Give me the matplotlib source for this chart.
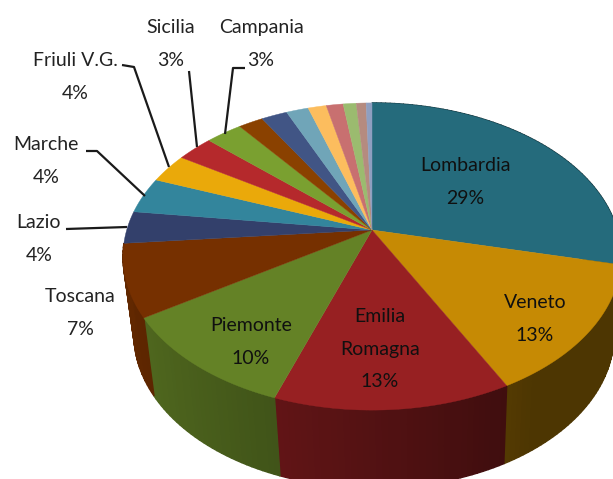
import numpy as np
import matplotlib
matplotlib.use('Agg')
import matplotlib.pyplot as plt
from matplotlib.patches import Polygon

plt.rcParams['font.family'] = ['Lato', 'Open Sans', 'DejaVu Sans']

# share of each slice, clockwise from 12 o'clock
regions = ['Lombardia', 'Veneto', 'Emilia Romagna', 'Piemonte', 'Toscana', 'Lazio', 'Marche',
           'Friuli V.G.', 'Sicilia', 'Campania', 'r11', 'r12', 'r13', 'r14', 'r15', 'r16', 'r17', 'r18']
values = [28.6, 13.7, 13.1, 10.6, 7.6, 3.4, 3.8, 3.1, 2.8, 2.8, 1.9, 2.0, 1.7, 1.4, 1.3, 1.0, 0.75, 0.45]
colors = ['#256b7c', '#c68a04', '#972022', '#648226', '#763000', '#33406b', '#33859c', '#eaa90a', '#b5292c',
          '#7aa030', '#8a4100', '#415585', '#70a5b8', '#fcbd5e', '#c87070', '#9bbb6f', '#b58b7f', '#8f9fc0']

inner_labels = ['Lombardia\n29%', 'Veneto\n13%', 'Emilia\nRomagna\n13%', 'Piemonte\n10%']
inner_x = [465, 535, 380, 251]
inner_y = [182, 319, 349, 342]
outer_labels = ['Toscana\n7%', 'Lazio\n4%', 'Marche\n4%', 'Friuli V.G.\n4%', 'Sicilia\n3%', 'Campania\n3%']
outer_x = [80, 39, 46, 75, 171, 261]
outer_y = [313, 239, 161, 77, 44, 44]

leaders = [[(66, 229), (127, 227)],
           [(86, 151), (97, 151), (145, 196)],
           [(122, 65), (134, 67), (169, 167)],
           [(189, 71), (197, 147)],
           [(245, 68), (233, 68), (225, 134)]]

# perspective of the top disc
cx, cy = 372, 230
a, b, k = 245.3, 149.0, 0.1726


def top(theta):
    u, v = np.sin(theta), np.cos(theta)
    d = 1 + k * v
    return cx + a * u / d, cy - b * v / d


def bottom(x, y):
    # lower rim is the top rim moved down and a bit smaller
    return 374 + (x - 372) * 240 / 249, 334 + (y - 256)


def shade(col, theta):
    c = np.array(matplotlib.colors.to_rgb(col))
    # darker to the right, lighter to the left
    f = max(0.39, 0.55 - 0.28 * np.sin(theta))
    return c * f


fig = plt.figure(figsize=(6.13, 4.79), dpi=100)
ax = fig.add_axes([0, 0, 1, 1])
ax.set_xlim(0, 613)
ax.set_ylim(479, 0)
ax.axis('off')

edges = np.cumsum([0] + values) / sum(values) * 2 * np.pi

# side wall, thin strips so the shade can change
# only the slices up to Toscana show a wall, the rest are behind the top face
for i, col in enumerate(colors[:5]):
    t = np.linspace(edges[i], edges[i + 1], max(3, int(values[i] * 3)))
    for t0, t1 in zip(t[:-1], t[1:]):
        x0, y0 = top(t0)
        x1, y1 = top(t1)
        pts = [(x0, y0), (x1, y1), bottom(x1, y1), bottom(x0, y0)]
        fc = shade(col, (t0 + t1) / 2)
        ax.add_patch(Polygon(pts, closed=True, fc=fc, ec=fc, lw=1.0))

# top face
for i, col in enumerate(colors):
    t = np.linspace(edges[i], edges[i + 1], 60)
    x, y = top(t)
    pts = [(cx, cy)] + list(zip(x, y))
    ax.add_patch(Polygon(pts, closed=True, fc=col, ec=col, lw=0.3))

for s, x, y in zip(inner_labels, inner_x, inner_y):
    ax.text(x, y, s, ha='center', va='center', fontsize=14, color='#101010', linespacing=2.1)
for s, x, y in zip(outer_labels, outer_x, outer_y):
    ax.text(x, y, s, ha='center', va='center', fontsize=14, color='#222222', linespacing=2.1)

for line in leaders:
    ax.plot([p[0] for p in line], [p[1] for p in line], color='#1a1a1a', lw=1.6, solid_capstyle='butt')

fig.savefig('out.png', dpi=100)
